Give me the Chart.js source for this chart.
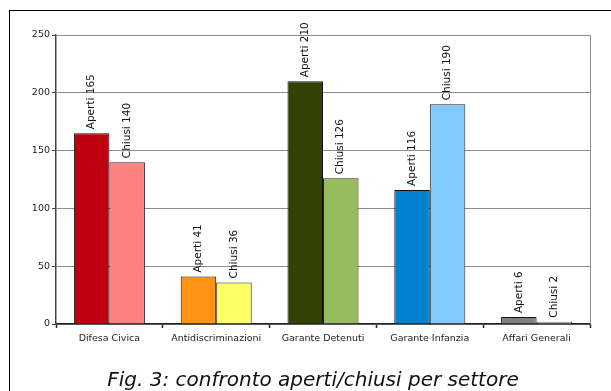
<!DOCTYPE html>
<html>
<head>
<meta charset="utf-8">
<script src="https://cdn.jsdelivr.net/npm/chart.js@4/dist/chart.umd.min.js"></script>
<style>
  html, body { margin: 0; padding: 0; background: #fff; }
  #wrap { position: relative; width: 611px; height: 391px; overflow: hidden; }
  #frame { position: absolute; left: 9px; top: 10px; width: 700px; height: 500px;
           border-left: 1.5px solid #000; border-top: 1.5px solid #000; }
  canvas { position: absolute; left: 0; top: 0; }
</style>
</head>
<body>
<div id="wrap">
  <div id="frame"></div>
  <canvas id="c" width="611" height="391"></canvas>
</div>
<script>
// Sectors and case counts
const sectors = ['Difesa Civica', 'Antidiscriminazioni', 'Garante Detenuti', 'Garante Infanzia', 'Affari Generali'];
const aperti = [165, 41, 210, 116, 6];
const chiusi = [140, 36, 126, 190, 2];
const seriesNames = ['Aperti', 'Chiusi'];
const yTicks = [0, 50, 100, 150, 200, 250];
const figTitle = 'Fig. 3: confronto aperti/chiusi per settore';

// Each sector has its own pair of shades
const apertiColors = ['#C00010', '#FF9414', '#334006', '#0082D0', '#808080'];
const chiusiColors = ['#FF8080', '#FFFF66', '#99BB60', '#80CAFF', '#D4D4D4'];

const FONT = '"DejaVu Sans", sans-serif';

const plotFrame = {
  id: 'plotFrame',
  beforeDatasetsDraw(chart) {
    const { ctx, chartArea: a } = chart;
    ctx.save();
    ctx.strokeStyle = '#8c8c8c';
    ctx.lineWidth = 1;
    ctx.beginPath();
    ctx.moveTo(a.left, a.top + 0.5);
    ctx.lineTo(a.right + 0.5, a.top + 0.5);
    ctx.lineTo(a.right + 0.5, a.bottom);
    ctx.stroke();
    ctx.restore();
  }
};

const barLabels = {
  id: 'barLabels',
  afterDatasetsDraw(chart) {
    const { ctx } = chart;
    ctx.save();
    ctx.font = '10.5px ' + FONT;
    ctx.fillStyle = '#111';
    ctx.textAlign = 'left';
    ctx.textBaseline = 'middle';
    chart.data.datasets.forEach((ds, di) => {
      chart.getDatasetMeta(di).data.forEach((bar, i) => {
        ctx.save();
        ctx.translate(bar.x, bar.y - 4);
        ctx.rotate(-Math.PI / 2);
        ctx.fillText(seriesNames[di] + ' ' + ds.data[i], 0, 0);
        ctx.restore();
      });
    });
    ctx.restore();
  }
};

const figCaption = {
  id: 'figCaption',
  afterDraw(chart) {
    const { ctx } = chart;
    ctx.save();
    ctx.font = 'italic 20px ' + FONT;
    ctx.fillStyle = '#111';
    ctx.textAlign = 'center';
    ctx.textBaseline = 'alphabetic';
    ctx.fillText(figTitle, 313, 386);
    ctx.restore();
  }
};

new Chart(document.getElementById('c'), {
  type: 'bar',
  data: {
    labels: sectors,
    datasets: [
      { label: seriesNames[0], data: aperti, backgroundColor: apertiColors,
        borderColor: '#111', borderWidth: 1, categoryPercentage: 0.665, barPercentage: 1 },
      { label: seriesNames[1], data: chiusi, backgroundColor: chiusiColors,
        borderColor: '#222', borderWidth: 1, categoryPercentage: 0.665, barPercentage: 1 }
    ]
  },
  options: {
    responsive: false,
    animation: false,
    layout: { padding: { left: 0, top: 35, right: 21, bottom: 0 } },
    plugins: { legend: { display: false }, tooltip: { enabled: false }, title: { display: false } },
    scales: {
      x: {
        grid: { offset: true, drawOnChartArea: false, tickColor: '#222', tickLength: 4, tickWidth: 1.5 },
        border: { color: '#222', width: 1.5 },
        ticks: { color: '#222', font: { family: FONT, size: 9.5 }, padding: 5, maxRotation: 0, autoSkip: false },
        afterFit(s) { s.height = 67; }
      },
      y: {
        min: yTicks[0], max: yTicks[yTicks.length - 1],
        afterBuildTicks(s) { s.ticks = yTicks.map(v => ({ value: v })); },
        grid: { color: '#8c8c8c', tickColor: '#444', tickLength: 4, lineWidth: 1 },
        border: { color: '#444', width: 1.5 },
        ticks: { color: '#222', font: { family: FONT, size: 9.5 }, padding: 2 },
        afterFit(s) { s.width = 56; }
      }
    }
  },
  plugins: [plotFrame, barLabels, figCaption]
});
</script>
</body>
</html>
